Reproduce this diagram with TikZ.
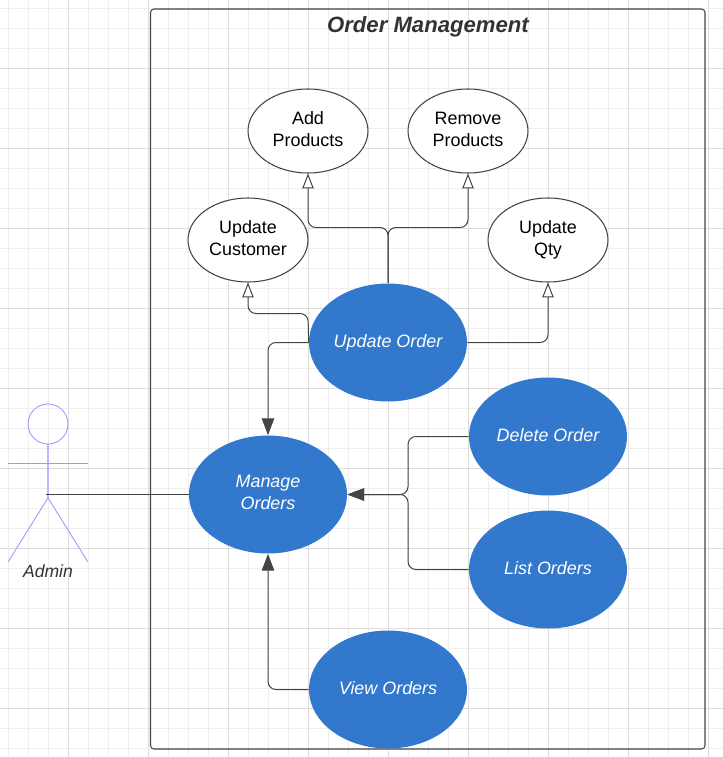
\documentclass[tikz,border=0pt]{standalone}
\usepackage{fontspec}
\setmainfont{Liberation Sans}
\usetikzlibrary{arrows.meta,shapes.geometric}
\definecolor{caseblue}{HTML}{3278CC}
\definecolor{ink}{HTML}{333333}
\definecolor{wire}{HTML}{444444}
\definecolor{stick}{HTML}{9999FF}
\definecolor{gridminor}{HTML}{EEEEEE}
\definecolor{gridmajor}{HTML}{DDDDDD}
\tikzset{
  usecase/.style={ellipse,inner sep=0pt,align=center,text depth=2.2pt},
  goal/.style={usecase,draw=wire,line width=0.6pt,fill=white,text=black,font=\fontsize{10.2}{12.5}\selectfont,minimum width=2.4cm,minimum height=1.68cm},
  action/.style={usecase,fill=caseblue,text=white,font=\fontsize{10.2}{12.5}\selectfont\itshape,minimum width=3.16cm,minimum height=2.36cm},
  wireline/.style={draw=wire,line width=0.567pt,rounded corners=4.5pt},
  extends/.style={wireline,-{Triangle[open,length=8.5pt,width=6.5pt,fill=white]}},
  calls/.style={wireline,-{Triangle[length=9.5pt,width=7pt]}},
  figure/.style={draw=stick,line width=0.5pt},
}
\begin{document}
\begin{tikzpicture}[x=0.02cm,y=-0.02cm]
\useasboundingbox (0,0) rectangle (723,757);
\foreach \gx in {8.5,28.5,...,708.5} \draw[gridminor,line width=0.567pt] (\gx,0) -- (\gx,757); % grid
\foreach \gy in {8.5,28.5,...,748.5} \draw[gridminor,line width=0.567pt] (0,\gy) -- (723,\gy); % grid
\foreach \gx in {68.5,148.5,...,708.5} \draw[gridmajor,line width=0.567pt] (\gx,0) -- (\gx,757); % grid
\foreach \gy in {68.5,148.5,...,708.5} \draw[gridmajor,line width=0.567pt] (0,\gy) -- (723,\gy); % grid
\draw[draw=wire,line width=0.6pt,rounded corners=2pt] (150.5,9) rectangle (705,749); % boundary
\node[text=ink,font=\fontsize{12.6}{15}\selectfont\bfseries\itshape] (title) at (428,27) {Order Management};
\node[goal] (addprod) at (308,131) {Add\\Products};
\node[goal] (remprod) at (468,131) {Remove\\Products};
\node[goal] (updcust) at (248,240) {Update\\Customer};
\node[goal] (updqty) at (548,240) {Update\\Qty};
\node[action] (updorder) at (388,342.5) {Update Order};
\node[action] (delorder) at (548,436.5) {Delete Order};
\node[action] (manage) at (268,494.5) {Manage\\Orders};
\node[action] (listorder) at (548,569.5) {List Orders};
\node[action] (vieworder) at (388,689.5) {View Orders};
\coordinate (fork) at (388,227.5);
\coordinate (custbend) at (308,313.5);
\coordinate (joint) at (408,494.5);
\draw[extends] (updorder.north) -- (fork) -| (addprod.south);
\draw[extends] (updorder.north) -- (fork) -| (remprod.south);
\draw[extends] (updorder.west) -- (custbend) -| (updcust.south);
\draw[extends] (updorder.east) -| (updqty.south);
\draw[calls] (updorder.west) -| (manage.north);
\draw[calls] (delorder.west) -| (joint) -- (manage.east);
\draw[calls] (listorder.west) -| (joint) -- (manage.east);
\draw[calls] (vieworder.west) -| (manage.south);
% actor
\node[circle,figure,minimum size=0.8cm,inner sep=0pt] (head) at (48,424) {};
\coordinate (hip) at (48,498);
\coordinate (armleft) at (8,463);
\coordinate (armright) at (88,463);
\coordinate (footleft) at (8,562);
\coordinate (footright) at (88,562);
\coordinate (hand) at (46,494.5);
\draw[figure,draw=stick!70,line width=1pt] (head.south) -- (hip);
\draw[figure] (armleft) -- (armright);
\draw[figure] (footleft) -- (hip) -- (footright);
\draw[wireline] (hand) -- (manage.west);
\node[text=ink,font=\fontsize{10}{12}\selectfont\itshape] (admin) at (48,571) {Admin};
\end{tikzpicture}
\end{document}
